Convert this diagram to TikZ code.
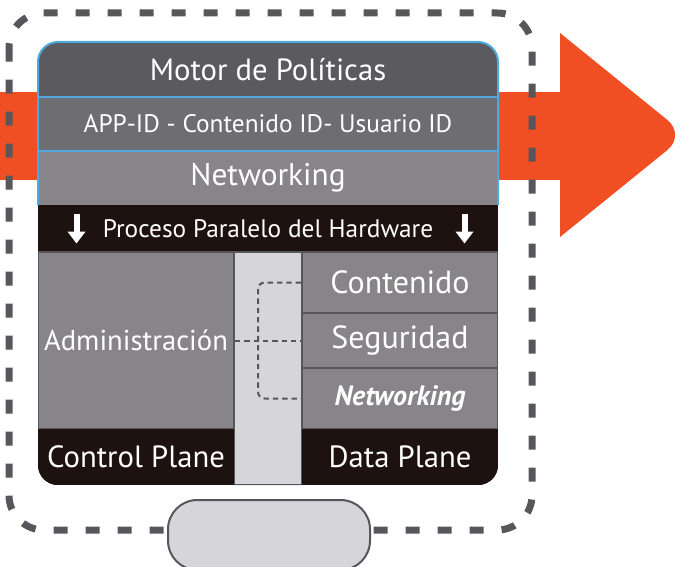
\documentclass[tikz,border=0pt]{standalone}
\usepackage{fontspec}
\setmainfont{PT Sans}
\usetikzlibrary{positioning,arrows.meta,calc}

\definecolor{flow}{RGB}{240,78,35}
\definecolor{frame}{RGB}{87,86,91}
\definecolor{edge}{RGB}{78,169,221}
\definecolor{tone1}{RGB}{91,90,95}
\definecolor{tone2}{RGB}{110,109,114}
\definecolor{tone3}{RGB}{135,133,137}
\definecolor{ink}{RGB}{30,18,16}
\definecolor{pale}{RGB}{214,214,218}

\tikzset{every picture/.style={line width=0.75pt}}
\tikzset{
  layer/.style={rectangle, fill=#1, text=white, minimum width=345pt, minimum height=40.5pt, inner sep=0pt},
  cell/.style={rectangle, fill=tone3, draw=frame, line width=1.5pt, text=white, minimum width=147pt, inner sep=0pt},
  plane/.style={rectangle, fill=ink, text=white, minimum width=147pt, minimum height=42pt, inner sep=0pt},
  link/.style={draw=frame, line width=1.5pt, dash pattern=on 4pt off 3pt},
  drop/.style={draw=white, line width=4.5pt, -{Triangle[width=13pt,length=9pt]}},
}

\begin{document}
\begin{tikzpicture}[x=0.75pt,y=0.75pt,yscale=-1,xscale=1]
\useasboundingbox (0,0) rectangle (686,567);

%Orange arrow
\fill[flow] (0,92) rectangle (565,180);
\fill[flow] (560,33) [rounded corners=18pt] -- (686,135) [sharp corners] -- (560,237) -- cycle;

%Dashed frame
\draw[frame, line width=5.25pt, dash pattern=on 10.5pt off 13.5pt, rounded corners=26pt] (9,13) rectangle (532,530);

%Main box
\begin{scope}
\clip[rounded corners=15pt] (38,42) rectangle (498,485);
\fill[ink] (38,42) rectangle (498,485);
\node[layer=tone1, minimum height=41.25pt, font=\fontsize{23}{26}\selectfont] (motor) at (268,69.5) {Motor de Políticas};
\node[layer=tone2, font=\fontsize{19}{22}\selectfont] (appid) at (268,124) {APP-ID - Contenido ID- Usuario ID};
\node[layer=tone3, font=\fontsize{23.5}{26}\selectfont] (net) at (268,178) {Networking};
\node[layer=ink, minimum height=35.25pt, font=\fontsize{19}{22}\selectfont] (hw) at (268,228.5) {Proceso Paralelo del Hardware};
\node[rectangle, fill=pale, draw=frame, line width=1.5pt, minimum width=51pt, minimum height=174.75pt] (mid) at (268,368.5) {};
\node[cell, minimum height=132.75pt, font=\fontsize{21.5}{24}\selectfont] (admin) at (136,340.5) {Administración};
\node[cell, minimum height=45.75pt, font=\fontsize{24}{26}\selectfont] (cont) at (400,282.5) {Contenido};
\node[cell, minimum height=41.25pt, font=\fontsize{24}{26}\selectfont] (seg) at (400,340.5) {Seguridad};
\node[cell, minimum height=45.75pt, font=\fontsize{21}{24}\selectfont\bfseries\itshape] (netw) at (400,398.5) {Networking};
\node[plane, font=\fontsize{23}{26}\selectfont] (cplane) at (136,457) {Control Plane};
\node[plane, font=\fontsize{23}{26}\selectfont] (dplane) at (400,457) {Data Plane};
\end{scope}

%Blue outline
\draw[edge, line width=1.5pt, rounded corners=15pt] (38,205) -- (38,42) -- (498,42) -- (498,205);
\draw[edge, line width=1.5pt] (motor.south west) -- (motor.south east);
\draw[edge, line width=1.5pt] (appid.south west) -- (appid.south east);

%Hardware arrows
\draw[drop] ($(hw.west)+(39,-15)$) -- ++(0,30);
\draw[drop] ($(hw.east)+(-34,-15)$) -- ++(0,30);

%Dotted links
\coordinate (bend) at (258,0);
\draw[link] (admin.east) -- (seg.west);
\draw[link, rounded corners=5pt] (cont.west) -| (bend |- netw.west) -- (netw.west);

%Port
\node[rectangle, fill=pale, draw=frame, line width=1.5pt, rounded corners=22pt, minimum width=151.5pt, minimum height=52.5pt] (port) at (269,535) {};
\end{tikzpicture}
\end{document}
